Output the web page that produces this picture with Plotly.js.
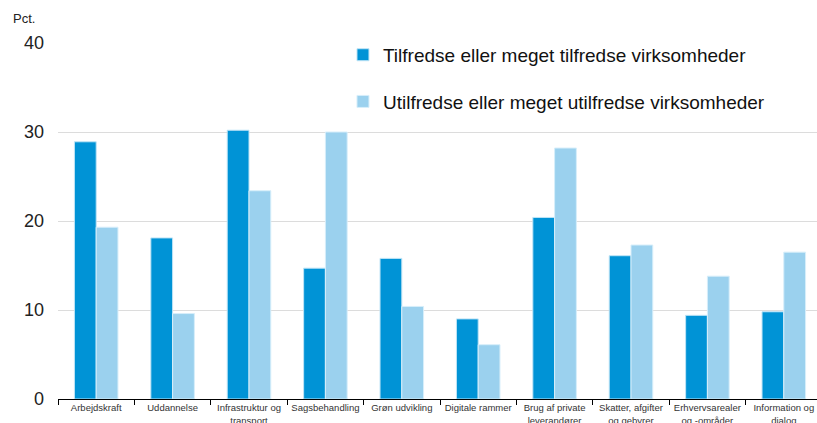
<!DOCTYPE html>
<html>
<head>
<meta charset="utf-8">
<script src="https://cdn.plot.ly/plotly-3.0.1.min.js"></script>
<style>
html,body{margin:0;padding:0;overflow:hidden;background:#fff;}
#chart{width:826px;height:423px;}
</style>
</head>
<body>
<div id="chart"></div>
<script>
const categories = [
  "Arbejdskraft",
  "Uddannelse",
  "Infrastruktur og<br>transport",
  "Sagsbehandling",
  "Grøn udvikling",
  "Digitale rammer",
  "Brug af private<br>leverandører",
  "Skatter, afgifter<br>og gebyrer",
  "Erhvervsarealer<br>og -områder",
  "Information og<br>dialog"
];
const satisfied = [28.9, 18.1, 30.2, 14.7, 15.8, 9.0, 20.4, 16.1, 9.4, 9.8];
const dissatisfied = [19.3, 9.6, 23.4, 30.0, 10.4, 6.1, 28.2, 17.3, 13.8, 16.5];
const seriesNames = [
  "Tilfredse eller meget tilfredse virksomheder",
  "Utilfredse eller meget utilfredse virksomheder"
];
const yTicks = [0, 10, 20, 30, 40];

const traces = [
  {type:"bar", x:categories, y:satisfied, name:seriesNames[0], legendgroup:"a",
   marker:{color:"#0093d6", line:{color:"#bfe4f6", width:1}}},
  {type:"bar", x:categories, y:dissatisfied, name:seriesNames[1], legendgroup:"b",
   marker:{color:"#9bd1ee", line:{color:"#d7eefa", width:1}}}
];

const layout = {
  width:826, height:423,
  margin:{l:58, r:4, t:43, b:24},
  paper_bgcolor:"#fff", plot_bgcolor:"#fff",
  font:{family:"Liberation Sans, Arial, sans-serif", color:"#222"},
  barmode:"group", bargap:0.43, bargroupgap:0,
  showlegend:true,
  legend:{x:0.373, y:1.02, xanchor:"left", yanchor:"top", bgcolor:"rgba(0,0,0,0)",
          font:{size:19, color:"#111"}, traceorder:"grouped", tracegroupgap:19,
          itemwidth:30},
  xaxis:{type:"category", showgrid:false, showline:true, linecolor:"#000", linewidth:1,
         ticks:"outside", tickson:"boundaries", ticklen:5, tickcolor:"#000",
         tickfont:{size:9.5, color:"#333"}, tickangle:0, fixedrange:true},
  yaxis:{range:[0,40], tickvals:yTicks, showgrid:true, gridcolor:"#dcdcdc", gridwidth:1,
         zeroline:false, showline:false, ticks:"", tickfont:{size:18, color:"#222"},
         ticklabelstandoff:13, fixedrange:true},
  annotations:[
    {text:"Pct.", xref:"paper", yref:"paper", x:-0.061, y:1.07, xanchor:"left", yanchor:"middle",
     showarrow:false, font:{size:13, color:"#222"}}
  ]
};

Plotly.newPlot("chart", traces, layout, {displayModeBar:false, staticPlot:true});
</script>
</body>
</html>
